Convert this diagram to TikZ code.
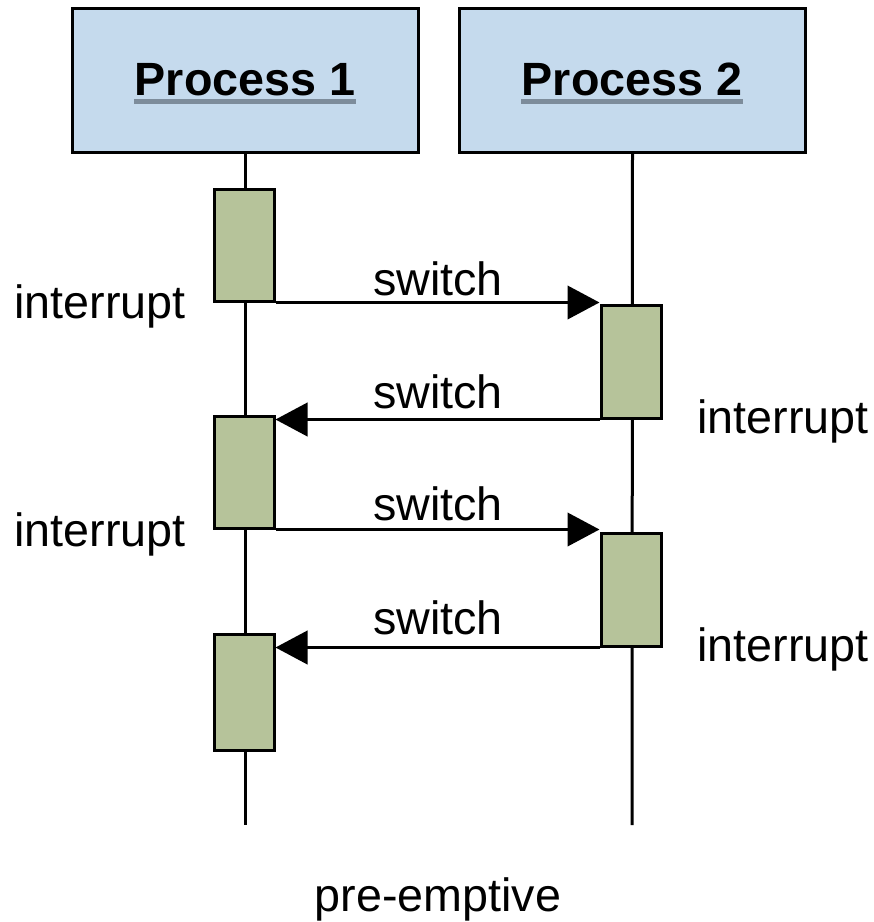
\documentclass[tikz,border=0pt]{standalone}
\usepackage{fontspec}
\setmainfont{Liberation Sans}
\usetikzlibrary{arrows.meta}

\definecolor{procfill}{RGB}{197,218,237}
\definecolor{actfill}{RGB}{182,195,154}
\definecolor{ulcolor}{RGB}{125,140,155}

\tikzset{
  proc/.style={draw=black, fill=procfill, line width=2.25pt, rectangle,
    minimum width=259.5pt, minimum height=108pt, inner sep=0pt},
  act/.style={draw=black, fill=actfill, line width=2.25pt, rectangle,
    minimum width=45pt, inner sep=0pt},
  lifeline/.style={draw=black, line width=2.25pt},
  msg/.style={draw=black, line width=2.25pt,
    -{Triangle[length=24pt,width=25pt]}},
  lbl/.style={font=\fontsize{35}{40}\selectfont, inner sep=0pt, anchor=base},
  title/.style={font=\fontsize{35}{40}\selectfont\bfseries, inner sep=0pt, anchor=base},
}

\begin{document}
\begin{tikzpicture}[x=0.75pt, y=-0.75pt]
  \useasboundingbox (0,0) rectangle (874,922);

  % process headers
  \node[proc] (p1) at (245,80) {};
  \node[proc] (p2) at (632.5,80) {};
  \node[title] (t1) at (245,95) {Process 1};
  \node[title] (t2) at (632,95) {Process 2};
  \draw[ulcolor, line width=3.5pt] ([yshift=-5pt]t1.base west) -- ([yshift=-5pt]t1.base east);
  \draw[ulcolor, line width=3.5pt] ([yshift=-5pt]t2.base west) -- ([yshift=-5pt]t2.base east);

  % lifelines
  \coordinate (e1) at (245,825);
  \coordinate (e2) at (632,825);
  \draw[lifeline] (p1.south) -- (e1);
  \draw[lifeline] (p2.south) -- (e2);

  % activations
  \node[act, minimum height=84pt]   (a1) at (244,245) {};
  \node[act, minimum height=84pt]   (a2) at (244,472) {};
  \node[act, minimum height=87pt]   (a3) at (244,692) {};
  \node[act, minimum height=84.75pt] (b1) at (631,361.5) {};
  \node[act, minimum height=84.75pt] (b2) at (631,589.5) {};

  % context switches
  \draw[msg] (a1.south east) -- (a1.south east -| b1.west);
  \draw[msg] (b1.south west) -- (b1.south west -| a2.east);
  \draw[msg] (a2.south east) -- (a2.south east -| b2.west);
  \draw[msg] (b2.south west) -- (b2.south west -| a3.east);

  % labels
  \node[lbl] (s1) at (438,295) {switch};
  \node[lbl] (s2) at (438,408) {switch};
  \node[lbl] (s3) at (438,520) {switch};
  \node[lbl] (s4) at (438,634) {switch};

  \node[lbl] (i1) at (100,318) {interrupt};
  \node[lbl] (i2) at (783,433) {interrupt};
  \node[lbl] (i3) at (100,546) {interrupt};
  \node[lbl] (i4) at (783,661) {interrupt};

  \node[lbl] (cap) at (438,911) {pre-emptive};
\end{tikzpicture}
\end{document}
